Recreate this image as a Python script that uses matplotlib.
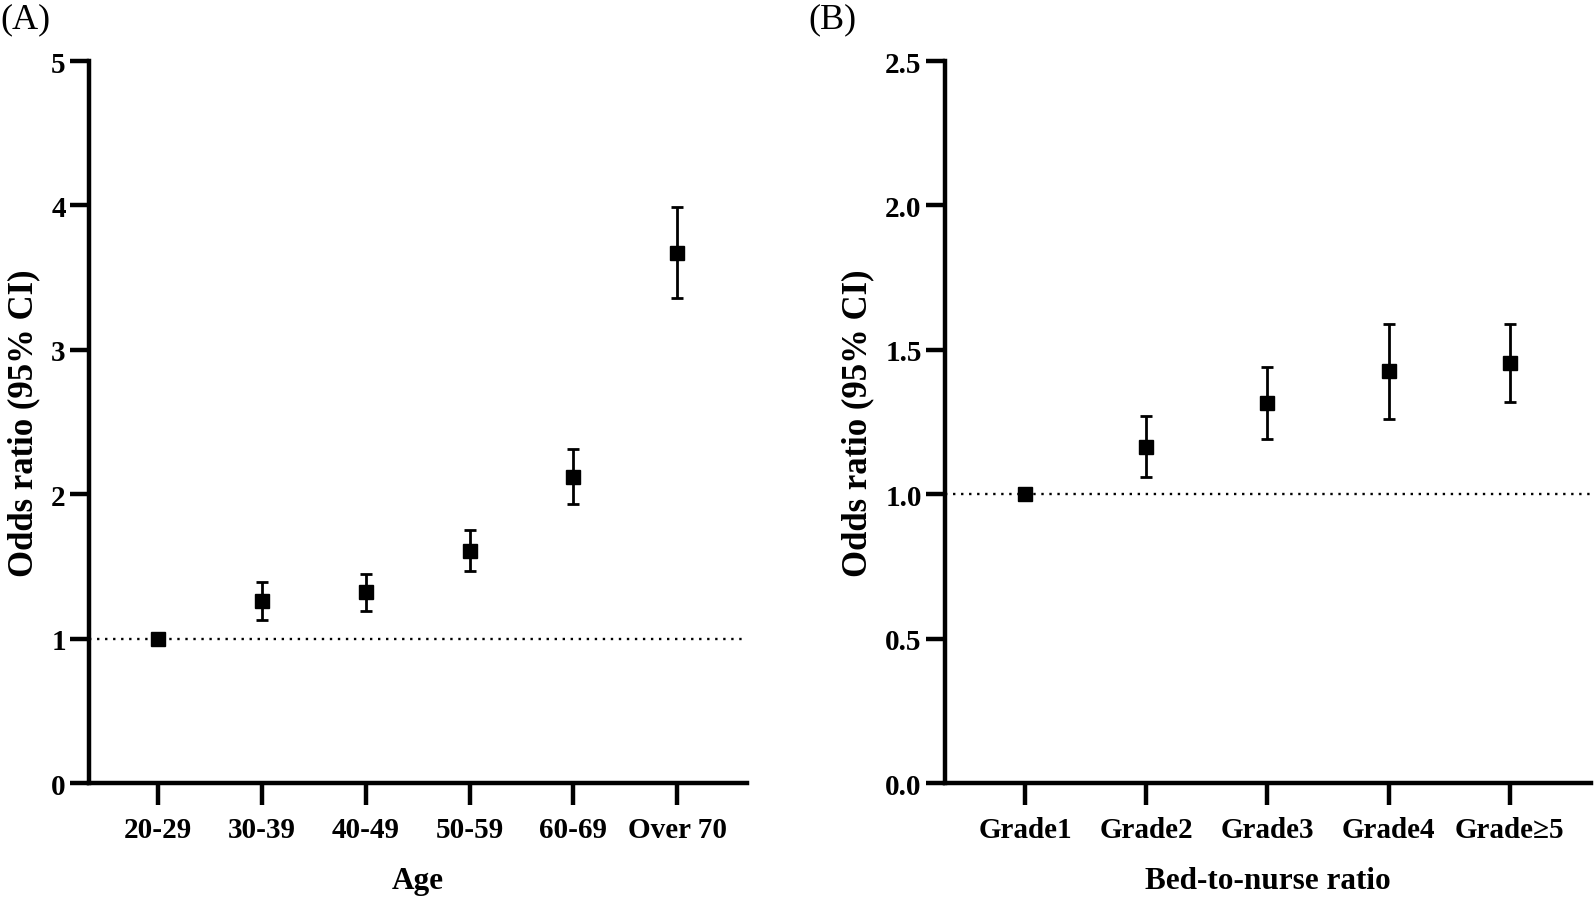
import numpy as np
import matplotlib.pyplot as plt

plt.rcParams['font.family'] = ['Liberation Serif', 'DejaVu Serif']

# Panel A: age groups
edades = ['20-29', '30-39', '40-49', '50-59', '60-69', 'Over 70']
or_edad = [1.0, 1.26, 1.32, 1.61, 2.12, 3.67]
inf_edad = [1.0, 1.13, 1.19, 1.47, 1.93, 3.36]
sup_edad = [1.0, 1.39, 1.45, 1.75, 2.31, 3.99]

# Panel B: bed-to-nurse ratio
grados = ['Grade1', 'Grade2', 'Grade3', 'Grade4', 'Grade\u22655']
or_grado = [1.0, 1.165, 1.315, 1.425, 1.455]
inf_grado = [1.0, 1.06, 1.19, 1.26, 1.32]
sup_grado = [1.0, 1.27, 1.44, 1.59, 1.59]

fig = plt.figure(figsize=(15.94, 9.04), dpi=100)
ax1 = fig.add_axes([0.0561, 0.1327, 0.4125, 0.7987])
ax2 = fig.add_axes([0.593, 0.1327, 0.405, 0.7987])


def dibujar(ax, cats, valores, inf, sup, ylim, yticks, ytl, xlabel):
    x = np.arange(len(cats))
    valores = np.array(valores)
    err = [valores - np.array(inf), np.array(sup) - valores]
    ax.axhline(1.0, color='black', lw=1.7, ls=(0, (1, 2.4)), zorder=1)
    ax.errorbar(x, valores, yerr=err, fmt='s', color='black', ms=9.5,
                elinewidth=2, capsize=4, capthick=2, zorder=3)
    ax.set_xlim(-0.66, len(cats) - 1 + 0.67)
    ax.set_ylim(*ylim)
    ax.set_yticks(yticks)
    ax.set_yticklabels(ytl)
    ax.set_xticks(x)
    ax.set_xticklabels(cats)
    for s in ['top', 'right']:
        ax.spines[s].set_visible(False)
    for s in ['left', 'bottom']:
        ax.spines[s].set_linewidth(3.2)
    ax.tick_params(axis='both', width=3.2, labelsize=21)
    ax.tick_params(axis='y', length=14, pad=3)
    ax.tick_params(axis='x', length=16, pad=8)
    for t in ax.get_xticklabels() + ax.get_yticklabels():
        t.set_fontweight('bold')
    ax.set_ylabel('Odds ratio (95% CI)', fontsize=25, fontweight='bold', labelpad=8)
    ax.set_xlabel(xlabel, fontsize=22.5, fontweight='bold', labelpad=16)


dibujar(ax1, edades, or_edad, inf_edad, sup_edad, (0, 5),
        [0, 1, 2, 3, 4, 5], ['0', '1', '2', '3', '4', '5'], 'Age')
dibujar(ax2, grados, or_grado, inf_grado, sup_grado, (0, 2.5),
        [0, 0.5, 1.0, 1.5, 2.0, 2.5], ['0.0', '0.5', '1.0', '1.5', '2.0', '2.5'],
        'Bed-to-nurse ratio')

fig.text(0.0, 0.978, '(A)', fontsize=26, va='center', ha='left')
fig.text(0.507, 0.978, '(B)', fontsize=26, va='center', ha='left')

fig.savefig('out.png', dpi=100)
